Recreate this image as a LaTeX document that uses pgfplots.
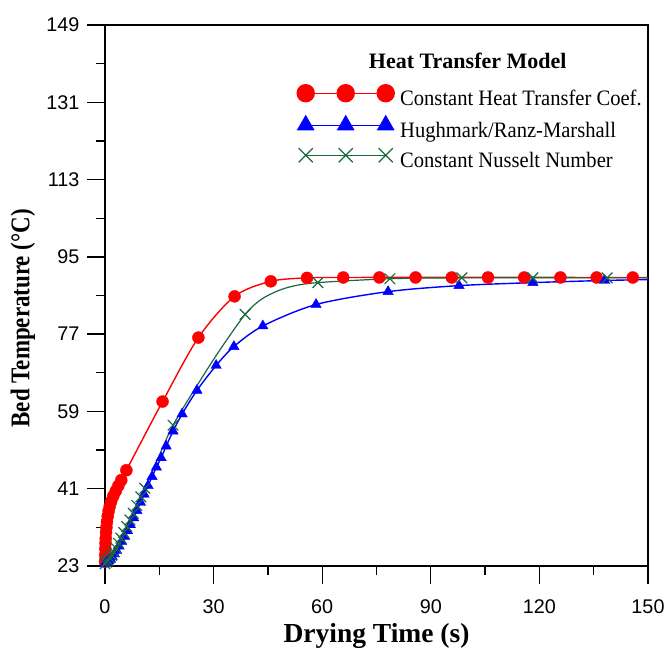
\documentclass[border=0pt]{standalone}
\usepackage{pgfplots}
\pgfplotsset{compat=1.18}
\usepackage{pgfplotstable}
\usepackage{fontspec}
\setmainfont{Liberation Serif}
\newfontfamily\arialf{Liberation Sans}
\definecolor{cred}{RGB}{255,0,0}
\definecolor{cblue}{RGB}{0,0,255}
\definecolor{cgreen}{RGB}{25,105,60}

\pgfplotstableread{
t T
0.0 24.0
0.05 25.5
0.1 27.0
0.15 28.3
0.2 29.4
0.3 30.8
0.4 32.0
0.55 33.3
0.75 34.6
1.0 35.8
1.3 36.9
1.7 38.0
2.3 39.3
3.0 40.5
3.7 41.7
4.5 43.0
5.9 45.3
15.9 61.3
25.8 76.2
35.8 85.8
45.8 89.3
55.8 90.1
65.8 90.2
75.8 90.2
85.8 90.2
95.8 90.2
105.8 90.2
115.8 90.2
125.8 90.2
135.8 90.2
145.8 90.2
}\redmarks
\pgfplotstableread{
t T
0.0 24.0
0.05 25.5
0.1 27.0
0.15 28.3
0.2 29.4
0.3 30.8
0.4 32.0
0.55 33.3
0.75 34.6
1.0 35.8
1.3 36.9
1.7 38.0
2.3 39.3
3.0 40.5
3.7 41.7
4.5 43.0
5.9 45.3
15.9 61.3
25.8 76.2
35.8 85.8
45.8 89.3
55.8 90.1
65.8 90.2
150 90.2
}\redline
\pgfplotstableread{
t T
0.0 23.5
0.3 23.7
0.6 23.9
1.0 24.2
1.5 24.6
2.0 25.1
2.6 25.8
3.2 26.6
3.9 27.6
4.6 28.7
5.4 29.9
6.2 31.2
7.0 32.6
7.9 34.2
8.8 35.9
9.8 37.8
10.8 39.7
11.9 41.7
13.0 43.8
14.2 46.0
15.5 48.2
16.9 50.9
18.8 54.4
21.3 58.4
25.4 63.9
30.7 69.7
35.6 74.1
43.6 78.9
58.3 83.9
78.2 86.9
97.8 88.3
118.2 89.0
138.0 89.5
}\bluemarks
\pgfplotstableread{
t T
0.0 23.5
0.3 23.7
0.6 23.9
1.0 24.2
1.5 24.6
2.0 25.1
2.6 25.8
3.2 26.6
3.9 27.6
4.6 28.7
5.4 29.9
6.2 31.2
7.0 32.6
7.9 34.2
8.8 35.9
9.8 37.8
10.8 39.7
11.9 41.7
13.0 43.8
14.2 46.0
15.5 48.2
16.9 50.9
18.8 54.4
21.3 58.4
25.4 63.9
30.7 69.7
35.6 74.1
43.6 78.9
58.3 83.9
78.2 86.9
97.8 88.3
118.2 89.0
138.0 89.5
150 89.7
}\blueline
\pgfplotstableread{
t T
0.0 23.5
0.4 23.9
0.8 24.3
1.3 24.9
1.8 25.5
2.4 26.3
3.0 27.2
3.7 28.3
4.4 29.5
5.2 30.8
6.0 32.2
6.9 33.7
7.8 35.3
8.8 37.1
9.9 39.1
11.0 41.1
18.8 55.8
38.7 81.6
58.8 89.0
78.7 89.9
98.6 90.1
118.2 90.1
138.7 90.1
}\greenmarks
\pgfplotstableread{
t T
0.0 23.5
0.4 23.9
0.8 24.3
1.3 24.9
1.8 25.5
2.4 26.3
3.0 27.2
3.7 28.3
4.4 29.5
5.2 30.8
6.0 32.2
6.9 33.7
7.8 35.3
8.8 37.1
9.9 39.1
11.0 41.1
14.5 47.8
18.8 55.8
25.4 65.0
31.8 73.4
38.7 81.6
43.0 85.0
47.5 87.0
52.0 88.2
58.8 89.0
78.7 89.9
98.6 90.1
150 90.1
}\greenline

\begin{document}
\begin{tikzpicture}
\begin{axis}[
  scale only axis, width=543pt, height=541pt,
  xmin=0, xmax=150, ymin=23, ymax=149,
  xtick={0,30,...,150}, ytick={23,41,...,149},
  minor x tick num=1, minor y tick num=1,
  tick align=outside, tick pos=left,
  tickwidth=18pt, subtickwidth=9pt,
  every major tick/.append style={draw=black, line width=1.3pt},
  every minor tick/.append style={draw=black, line width=1.3pt},
  axis line style={line width=1.8pt},
  /pgf/number format/assume math mode=true,
  ticklabel style={font=\arialf\fontsize{19.8}{22}\selectfont},
  xticklabel style={yshift=-12pt},
  yticklabel style={xshift=-4pt},
  xlabel={\textbf{Drying Time (s)}},
  ylabel={\scalebox{0.85}[1]{\textbf{Bed Temperature (°C)}}},
  every axis x label/.style={at={(axis description cs:0.5,-0.142)}, anchor=base, font=\fontsize{27.5}{30}\selectfont},
  every axis y label/.style={at={(axis description cs:-0.151,0.458)}, anchor=center, rotate=90, font=\fontsize{27}{30}\selectfont},
  legend style={draw=none, fill=none, at={(axis description cs:0.3536,0.890)}, anchor=north west,
    font=\fontsize{22}{24}\selectfont, inner sep=0pt, row sep=4pt, column sep=5pt,
    nodes={inner sep=1pt, text height=16pt, text depth=6pt}},
  legend cell align=left,
  legend image code/.code={
    \draw[#1, mark=none] (0pt,7pt) -- (80pt,7pt);
    \draw[#1, only marks] plot coordinates {(0pt,7pt) (40pt,7pt) (80pt,7pt)};
  },
]
\addplot[cred, line width=1.4pt, smooth, forget plot] table[x=t,y=T] {\redline};
\addplot[cred, only marks, mark=*, mark size=6pt, forget plot] table[x=t,y=T] {\redmarks};
\addplot[cblue, line width=1.4pt, smooth, forget plot] table[x=t,y=T] {\blueline};
\addplot[cblue, only marks, mark=triangle*, mark size=6pt, forget plot] table[x=t,y=T] {\bluemarks};
\addplot[cgreen, line width=1.2pt, smooth, forget plot] table[x=t,y=T] {\greenline};
\addplot[cgreen, only marks, mark=x, mark size=7.5pt, line width=1.2pt, forget plot] table[x=t,y=T] {\greenmarks};

\addlegendimage{cred, line width=1.4pt, mark=*, mark size=8.5pt}
\addlegendentry{\scalebox{0.935}[1]{Constant Heat Transfer Coef.}}
\addlegendimage{cblue, line width=1.4pt, mark=triangle*, mark size=9pt}
\addlegendentry{\scalebox{0.935}[1]{Hughmark/Ranz-Marshall}}
\addlegendimage{cgreen, line width=1.3pt, mark=x, mark size=10pt}
\addlegendentry{\scalebox{0.935}[1]{Constant Nusselt Number}}

\node[font=\bfseries\fontsize{22}{24}\selectfont] at (rel axis cs:0.668,0.933) {Heat Transfer Model};
\end{axis}
\pgfresetboundingbox
\path[use as bounding box] (current axis.south west) ++(-105pt,-82pt) rectangle ++(670pt,648pt);
\end{tikzpicture}
\end{document}
